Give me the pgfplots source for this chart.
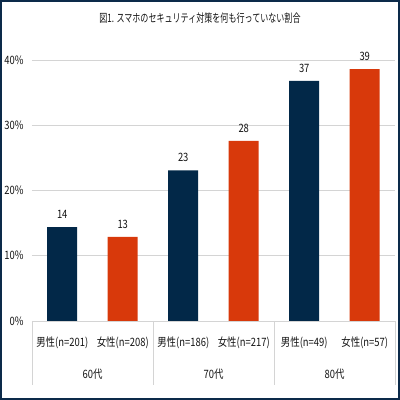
\documentclass[border=0pt]{standalone}
\usepackage{fontspec}
\setmainfont{Noto Sans CJK JP}[FakeStretch=0.82]
\newfontfamily\titlefont{Noto Sans CJK JP}[FakeStretch=0.70]
\usepackage{pgfplots}
\pgfplotsset{compat=1.18}
\definecolor{navy}{RGB}{2,40,72}
\definecolor{orng}{RGB}{216,57,11}
\definecolor{frame}{RGB}{12,42,74}
\definecolor{gridc}{RGB}{212,212,212}
\definecolor{txt}{RGB}{20,20,20}
\begin{document}
\begin{tikzpicture}
\useasboundingbox (0,0) rectangle (400pt,400pt);
\fill[white] (0,0) rectangle (400pt,400pt);
\draw[frame, line width=2pt] (1pt,1pt) rectangle (399pt,399pt);
\node[font=\titlefont\fontsize{11.5}{12}\selectfont, text=txt] at (200pt,382pt) {図1. スマホのセキュリティ対策を何も行っていない割合};
\begin{axis}[
  at={(32pt,79pt)}, anchor=south west,
  width=363pt, height=261pt, scale only axis,
  xmin=-0.5, xmax=5.5, ymin=0, ymax=40,
  ybar, bar width=30pt,
  axis line style={draw=none},
  ymajorgrids, grid style={gridc, line width=0.9pt},
  ytick={0,10,20,30,40},
  yticklabel={\pgfmathprintnumber{\tick}\%},
  /pgf/number format/assume math mode=true,
  yticklabel style={font=\fontsize{11.5}{12}\selectfont, text=txt, xshift=-5pt},
  xtick={0,1,2,3,4,5},
  xticklabels={男性(n=201),女性(n=208),男性(n=186),女性(n=217),男性(n=49),女性(n=57)},
  xticklabel style={font=\fontsize{11.5}{12}\selectfont, text=txt, anchor=center, yshift=-22pt},
  extra x ticks={0.5,2.5,4.5},
  extra x tick labels={60代,70代,80代},
  extra x tick style={xticklabel style={yshift=-31pt}, major tick length=0pt},
  major tick length=0pt,
  clip=false,
  nodes near coords,
  point meta=explicit symbolic,
  nodes near coords style={font=\fontsize{11.5}{12}\selectfont, text=txt, anchor=south, yshift=5pt},
]
\addplot[fill=navy, draw=none, bar shift=0pt] coordinates {(0,14.4) [14] (2,23.1) [23] (4,36.8) [37]};
\addplot[fill=orng, draw=none, bar shift=0pt] coordinates {(1,12.9) [13] (3,27.6) [28] (5,38.6) [39]};
\draw[gridc, line width=0.9pt] (axis cs:-0.5,0) -- ([yshift=-64pt]axis cs:-0.5,0);
\draw[gridc, line width=0.9pt] (axis cs:1.5,0) -- ([yshift=-64pt]axis cs:1.5,0);
\draw[gridc, line width=0.9pt] (axis cs:3.5,0) -- ([yshift=-64pt]axis cs:3.5,0);
\draw[gridc, line width=0.9pt] (axis cs:5.5,0) -- ([yshift=-64pt]axis cs:5.5,0);
\end{axis}
\end{tikzpicture}
\end{document}
